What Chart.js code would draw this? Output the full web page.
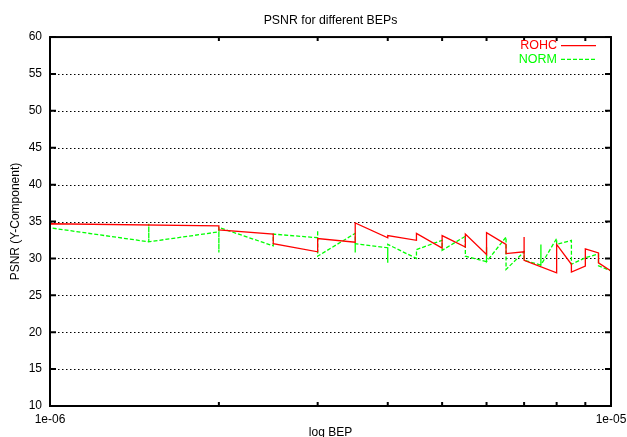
<!DOCTYPE html>
<html>
<head>
<meta charset="utf-8">
<script src="https://cdn.jsdelivr.net/npm/chart.js@4/dist/chart.umd.min.js"></script>
<style>
html,body{margin:0;padding:0;background:#fff;}
#wrap{width:627px;height:437px;overflow:hidden;}
</style>
</head>
<body>
<div id="wrap"><canvas id="c" width="627" height="437"></canvas></div>
<script>
// ---- data ----
const chartTitle = 'PSNR for different BEPs';
const xAxisTitle = 'log BEP';
const yAxisTitle = 'PSNR (Y-Component)';
const xTickValues = [1e-6, 1e-5];
const xTickLabels = ['1e-06', '1e-05'];
const xMinorTicks = [2e-6, 3e-6, 4e-6, 5e-6, 6e-6, 7e-6, 8e-6, 9e-6];
const yMin = 10, yMax = 60, yStep = 5;

const rohcBEP = [1e-6,1e-6,2e-6,2e-6,2.5e-6,2.5e-6,3e-6,3e-6,3.5e-6,3.5e-6,4e-6,4e-6,4.5e-6,4.5e-6,5e-6,5e-6,5.5e-6,5.5e-6,6e-6,6e-6,6.5e-6,6.5e-6,7e-6,7e-6,7e-6,8e-6,8e-6,8.5e-6,8.5e-6,9e-6,9e-6,9.5e-6,9.5e-6,1e-5];
const rohcPSNR = [32.4,34.7,34.4,33.85,33.3,32.0,30.9,32.7,32.2,34.8,32.8,33.1,32.45,33.4,31.4,33.1,31.55,33.3,30.55,33.5,31.9,30.65,30.9,32.9,29.75,28.05,31.9,29.2,28.15,28.95,31.3,30.75,29.4,28.3];

const normBEP = [1e-6,1e-6,1.5e-6,1.5e-6,1.5e-6,2e-6,2e-6,2e-6,2.5e-6,2.5e-6,3e-6,3e-6,3e-6,3.5e-6,3.5e-6,3.5e-6,4e-6,4e-6,4e-6,4.5e-6,4.5e-6,5e-6,5e-6,5.5e-6,5.5e-6,6e-6,6e-6,6e-6,6.5e-6,6.5e-6,7e-6,7e-6,7.5e-6,7.5e-6,7.5e-6,8e-6,8e-6,8.5e-6,8.5e-6,9e-6,9.5e-6,9.5e-6,1e-5,1e-5];
const normPSNR = [33.7,34.15,32.25,34.7,32.25,33.6,30.8,34.2,31.7,33.3,32.8,33.8,30.3,33.4,30.8,32.0,31.45,29.4,31.9,30.0,31.2,32.45,31.1,33.0,30.3,29.55,31.5,29.55,32.9,28.5,30.9,29.75,29.1,31.9,29.1,32.7,31.9,32.45,29.2,30.1,30.6,29.0,28.3,30.1];

const FONT = '"Liberation Sans", Arial, Helvetica, sans-serif';

function pts(xs, ys){ return xs.map((x,i)=>({x:x, y:ys[i]})); }

const framePlugin = {
  id: 'frame',
  beforeDatasetsDraw(chart){
    const ctx = chart.ctx, ca = chart.chartArea, ys = chart.scales.y;
    ctx.save();
    ctx.strokeStyle = '#000';
    ctx.lineWidth = 1;
    ctx.setLineDash([1.5, 2.5]);
    for (let v = yMin + yStep; v < yMax; v += yStep){
      const py = Math.round(ys.getPixelForValue(v)) + 0.5;
      ctx.beginPath(); ctx.moveTo(ca.left, py); ctx.lineTo(ca.right, py); ctx.stroke();
    }
    ctx.restore();
  },
  afterDatasetsDraw(chart){
    const ctx = chart.ctx, ca = chart.chartArea, xs = chart.scales.x, ys = chart.scales.y;
    ctx.save();
    ctx.strokeStyle = '#000';
    ctx.lineWidth = 2;
    ctx.setLineDash([]);
    ctx.strokeRect(ca.left, ca.top, ca.right - ca.left, ca.bottom - ca.top);
    for (let v = yMin; v <= yMax; v += yStep){
      const py = ys.getPixelForValue(v);
      ctx.beginPath();
      ctx.moveTo(ca.left, py); ctx.lineTo(ca.left + 6, py);
      ctx.moveTo(ca.right, py); ctx.lineTo(ca.right - 6, py);
      ctx.stroke();
    }
    xMinorTicks.forEach(m => {
      const px = xs.getPixelForValue(m);
      ctx.beginPath();
      ctx.moveTo(px, ca.bottom); ctx.lineTo(px, ca.bottom - 4);
      ctx.moveTo(px, ca.top); ctx.lineTo(px, ca.top + 4);
      ctx.stroke();
    });
    // legend inside the plot, top right
    ctx.font = '12.5px ' + FONT;
    ctx.textAlign = 'right';
    ctx.textBaseline = 'middle';
    chart.data.datasets.forEach((ds, i) => {
      const ty = ca.top + 8.5 + i * 13.8;
      const tx = ca.right - 54;
      ctx.fillStyle = ds.borderColor;
      ctx.fillText(ds.label, tx, ty);
      ctx.strokeStyle = ds.borderColor;
      ctx.lineWidth = 1.3;
      ctx.setLineDash(ds.borderDash || []);
      ctx.beginPath(); ctx.moveTo(tx + 4, ty); ctx.lineTo(ca.right - 15, ty); ctx.stroke();
    });
    ctx.restore();
  }
};

new Chart(document.getElementById('c'), {
  type: 'line',
  data: {
    datasets: [
      { label: 'ROHC', data: pts(rohcBEP, rohcPSNR), borderColor: '#ff0000', borderWidth: 1.3, pointRadius: 0, tension: 0, fill: false },
      { label: 'NORM', data: pts(normBEP, normPSNR), borderColor: '#00ff00', borderWidth: 1.3, borderDash: [4, 2], pointRadius: 0, tension: 0, fill: false }
    ]
  },
  options: {
    responsive: false,
    animation: false,
    devicePixelRatio: 1,
    layout: { padding: { left: 0, right: 16, top: 0, bottom: -3 } },
    plugins: {
      legend: { display: false },
      tooltip: { enabled: false },
      title: { display: true, fullSize: false, text: chartTitle, color: '#000', font: { family: FONT, size: 12.3, weight: 'normal' }, padding: { top: 13.3, bottom: 9 } }
    },
    scales: {
      x: {
        type: 'logarithmic', min: xTickValues[0], max: xTickValues[xTickValues.length-1],
        grid: { display: false, drawTicks: false },
        border: { display: false },
        afterBuildTicks: s => { s.ticks = xTickValues.map(v => ({ value: v })); },
        afterFit: s => { s.height = 34; s.paddingLeft = 0; s.paddingRight = 0; },
        ticks: { maxRotation: 0, autoSkip: false, padding: 6, color: '#000', font: { family: FONT, size: 12 },
          callback: (v) => { const i = xTickValues.indexOf(v); return i >= 0 ? xTickLabels[i] : ''; } },
        title: { display: true, text: xAxisTitle, color: '#000', font: { family: FONT, size: 12 }, padding: { top: 0, bottom: 0 } }
      },
      y: {
        min: yMin, max: yMax,
        grid: { display: false, drawTicks: false },
        border: { display: false },
        afterFit: s => { s.width = 50; },
        ticks: { stepSize: yStep, padding: 8, color: '#000', font: { family: FONT, size: 12 } },
        title: { display: true, text: yAxisTitle, color: '#000', font: { family: FONT, size: 12 }, padding: { top: 8, bottom: 0 } }
      }
    }
  },
  plugins: [framePlugin]
});
</script>
</body>
</html>
